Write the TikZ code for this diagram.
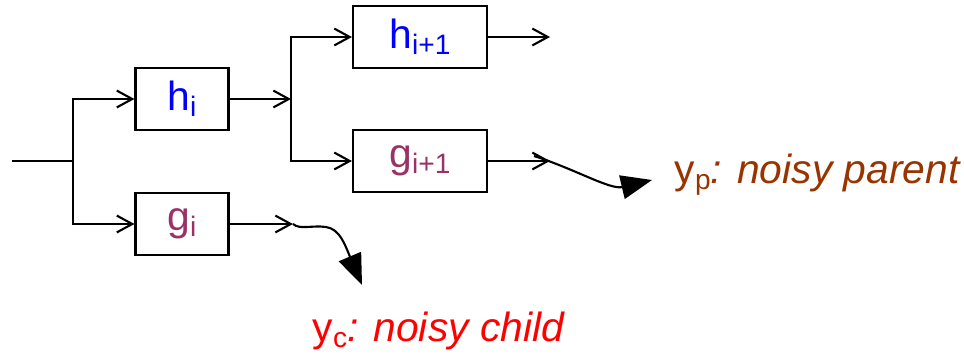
\documentclass[tikz,border=0pt]{standalone}
\usepackage{fontspec}
\setmainfont{Liberation Sans}
\usetikzlibrary{positioning, arrows.meta}
\definecolor{hblue}{RGB}{0,0,255}
\definecolor{gpurple}{RGB}{153,51,102}
\definecolor{parentbrown}{RGB}{153,51,0}
\definecolor{childred}{RGB}{255,0,0}
\newcommand{\lowidx}[1]{\raisebox{-0.15em}{\fontsize{20}{20}\selectfont #1}}

\begin{document}
\begin{tikzpicture}[x=0.025cm, y=-0.025cm, line width=1.5pt,
    >={Straight Barb[length=11pt, width=12pt]},
    box/.style={draw, line width=1.5pt, inner sep=0pt,
                minimum width=2.325cm, minimum height=1.55cm,
                font=\fontsize{29}{30}\selectfont},
    widebox/.style={box, minimum width=3.35cm},
    noisy/.style={anchor=base west, font=\fontsize{29}{30}\selectfont},
    bigtip/.style={-{Triangle[length=22pt, width=17pt]}}]
    \useasboundingbox (0,0) rectangle (964,356);
    % blocks of step i and i+1
    \node[box, text=hblue] (hi) at (182,99) {h\lowidx{i}};
    \node[box, text=gpurple] (gi) at (182,224) {g\lowidx{i}};
    \node[widebox, text=hblue] (hnext) at (420,37) {h\lowidx{i+1}};
    \node[widebox, text=gpurple] (gnext) at (420,161) {g\lowidx{i+1}};
    \node[noisy, text=parentbrown] (yp) at (669,183) {y\lowidx{p}\textit{: noisy parent}};
    \node[noisy, text=childred] (yc) at (307,341) {y\lowidx{c}\textit{: noisy child}};
    \coordinate (in) at (12,161);
    \coordinate (split) at (73,161);
    \coordinate (hsplit) at (291,99);
    \coordinate (hout) at (550,37);
    \coordinate (gout) at (550,161);
    \coordinate (pstart) at (534,156);
    \coordinate (gturn) at (293,224);
    \coordinate (ptip) at (652,180);
    \coordinate (ctip) at (362,285);
    % connectors
    \draw (in) -- (split);
    \draw[->] (split) |- (hi.west);
    \draw[->] (split) |- (gi.west);
    \draw[->] (hi) -- (hsplit);
    \draw[->] (hsplit) |- (hnext.west);
    \draw[->] (hsplit) |- (gnext.west);
    \draw[->] (hnext) -- (hout);
    \draw[->] (gnext) -- (gout);
    \draw[->] (gi) -- (gturn);
    % noisy outputs
    \draw[bigtip] (pstart) .. controls (575,169) and (610,190) .. (ptip);
    \draw[bigtip] (gturn) .. controls (300,230) and (312,225) .. (326,227)
        .. controls (340,229) and (345,245) .. (ctip);
\end{tikzpicture}
\end{document}
